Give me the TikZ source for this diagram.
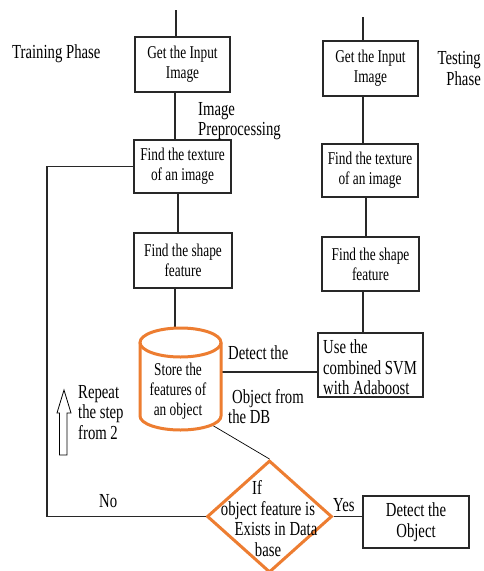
\documentclass[tikz,border=0pt]{standalone}
\usepackage{fontspec}
\setmainfont{Liberation Serif}[FakeStretch=0.74]
\usetikzlibrary{shapes.geometric,calc}
\definecolor{orangec}{RGB}{237,125,49}
\definecolor{linec}{RGB}{40,40,40}
\newcommand\txtA{\fontsize{18}{20}\selectfont}
\newcommand\txtB{\fontsize{19.9}{20.5}\selectfont}
\begin{document}
\begin{tikzpicture}[x=1pt,y=-1pt,
  procbox/.style={draw=linec, line width=1.1pt, inner sep=0, font=\txtA, align=center},
  lab/.style={font=\txtB, inner sep=0},
  conn/.style={draw=linec, line width=1.1pt},
  orng/.style={draw=orangec, line width=3pt}]
\useasboundingbox[fill=white] (0,0) rectangle (483,571);

% boxes
\node[procbox, minimum width=95pt, minimum height=55pt] (b1) at (182.5,64.5) {Get the Input\\Image};
\node[procbox, minimum width=97pt, minimum height=53pt] (b2) at (182.5,166.5) {Find the texture\\of an image};
\node[procbox, minimum width=98pt, minimum height=55pt] (b3) at (183,260.5) {Find the shape\\feature};
\node[procbox, minimum width=95pt, minimum height=55pt] (r1) at (370.5,68.5) {Get the Input\\Image};
\node[procbox, minimum width=96pt, minimum height=53pt] (r2) at (370,170.5) {Find the texture\\of an image};
\node[procbox, minimum width=97pt, minimum height=54pt] (r3) at (370.5,264) {Find the shape\\feature};
\node[procbox, minimum width=105pt, minimum height=64pt] (r4) at (370.5,365) {};
\node[lab, anchor=west, align=left] (r4txt) at (323,367.5) {Use the\\combined SVM\\with Adaboost};
\node[procbox, font=\txtB, minimum width=106pt, minimum height=52pt] (det) at (416,522) {Detect the\\Object};

% cylinder
\node[inner sep=0, minimum width=81pt, minimum height=102pt] (cyl) at (180.5,379) {};
\node[font=\txtA, align=center, inner sep=0] (cyltxt) at (178,391.5) {Store the\\features of\\an object};

% diamond
\node[diamond, orng, minimum width=125pt, minimum height=112pt, inner sep=0] (dia) at (269.5,516.5) {};
\node[lab, align=center] (diatxt) at (268,518.5) {If\hspace*{22pt}\\object feature is\\\hspace*{16pt}Exists in Data\\base};

% labels
\node[lab, anchor=west] (train) at (12,54) {Training Phase};
\node[lab, anchor=west, align=left] (prep) at (198,121) {Image\\Preprocessing};
\node[lab, anchor=east, align=right] (test) at (481,68.5) {Testing\\Phase};
\node[lab, anchor=west] (dt) at (228,353) {Detect the};
\node[lab, anchor=west, align=left] (ofr) at (228,406.5) {\hspace*{4pt}Object from\\the DB};
\node[lab, anchor=west, align=left] (rep) at (78,412.5) {Repeat\\the step\\from 2};
\node[lab, anchor=west] (no) at (99,501) {No};
\node[lab, anchor=west] (yes) at (333,505) {Yes};

% coordinates
\coordinate (t1) at (176,10);
\coordinate (t2) at (363,17);
\coordinate (lx) at (47,0);
\coordinate (cylbr) at (212,425);

% connectors
\draw[conn] (t1) -- (t1 |- b1.north);
\draw[conn] (t2) -- (t2 |- r1.north);
\draw[conn] ([xshift=-7.5pt]b1.south) -- ([xshift=-7.5pt]b1.south |- b2.north);
\draw[conn] ([xshift=-4.5pt]b2.south) -- ([xshift=-4.5pt]b2.south |- b3.north);
\draw[conn] ([xshift=-8pt]b3.south) -- ([xshift=-8pt]b3.south |- cyl.north);
\draw[conn] ([xshift=-7.5pt]r1.south) -- ([xshift=-7.5pt]r1.south |- r2.north);
\draw[conn] ([xshift=-4pt]r2.south) -- ([xshift=-4pt]r2.south |- r3.north);
\draw[conn] ([xshift=-7.5pt]r3.south) -- ([xshift=-7.5pt]r3.south |- r4.north);
\draw[conn] ([yshift=7pt]cyl.east) -- ([yshift=7pt]cyl.east -| r4.west);
\draw[line width=0.7pt] (cylbr) -- (dia.north);
\draw[conn] (b2.west) -- (b2.west -| lx) |- (dia.west);
\draw[conn] (dia.east) -- (dia.east -| det.west);

% cylinder shape
\draw[orng] (180.5,342.5) ellipse [x radius=40.5pt, y radius=14.5pt];
\draw[orng] (140,342.5) -- (140,416) arc[start angle=180, end angle=360, x radius=40.5pt, y radius=14pt] -- (221,342.5);

% open up arrow
\draw[line width=0.8pt] (59.5,455) -- (59.5,413) -- (57,413) -- (64,390) -- (71,413) -- (67,413) -- (67,455) -- cycle;
\end{tikzpicture}
\end{document}
